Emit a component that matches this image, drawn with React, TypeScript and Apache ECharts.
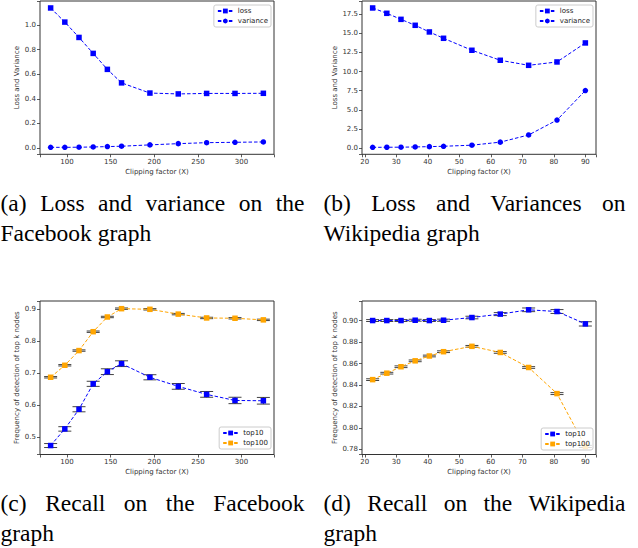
import React, { useEffect, useRef } from 'react';
import * as echarts from 'echarts';

// ---------- data ----------
const FB_X = [81.25, 97.5, 113.75, 130, 146.25, 162.5, 195, 227.5, 260, 292.5, 325];
const WIKI_X = [22.5, 27, 31.5, 36, 40.5, 45, 54, 63, 72, 81, 90];

const FB_LOSS = [1.14, 1.025, 0.9, 0.77, 0.64, 0.53, 0.447, 0.44, 0.444, 0.444, 0.445];
const FB_VARIANCE = [0.005, 0.005, 0.006, 0.008, 0.011, 0.014, 0.025, 0.035, 0.043, 0.046, 0.049];

const WIKI_LOSS = [18.33, 17.63, 16.84, 16.06, 15.19, 14.36, 12.79, 11.48, 10.82, 11.26, 13.75];
const WIKI_VARIANCE = [0.08, 0.09, 0.1, 0.13, 0.17, 0.22, 0.36, 0.76, 1.7, 3.65, 7.52];

const FB_TOP10 = [0.474, 0.526, 0.5875, 0.667, 0.705, 0.73, 0.6875, 0.659, 0.634, 0.615, 0.614];
const FB_TOP10_ERR = [0.0062, 0.007, 0.008, 0.008, 0.009, 0.009, 0.008, 0.009, 0.009, 0.01, 0.0104];
const FB_TOP100 = [0.6875, 0.725, 0.771, 0.83, 0.876, 0.902, 0.9, 0.885, 0.873, 0.872, 0.867];
const FB_TOP100_ERR = [0.0022, 0.0022, 0.0022, 0.0022, 0.0022, 0.0022, 0.0022, 0.0022, 0.0022, 0.0022, 0.0022];

const WIKI_TOP10 = [0.9, 0.9, 0.9, 0.9003, 0.9, 0.9003, 0.9028, 0.906, 0.91, 0.9084, 0.8969];
const WIKI_TOP10_ERR = [0.0009, 0.0009, 0.0009, 0.0009, 0.0009, 0.001, 0.0012, 0.0014, 0.0017, 0.0018, 0.002];
const WIKI_TOP100 = [0.845, 0.851, 0.857, 0.8625, 0.867, 0.871, 0.876, 0.8703, 0.8563, 0.832, 0.7828];
const WIKI_TOP100_ERR = [0.0008, 0.0008, 0.0008, 0.0008, 0.0008, 0.0008, 0.0008, 0.0008, 0.0008, 0.0009, 0.001];

const CAPTIONS = [
  ['(a) Loss and variance on the', 'Facebook graph'],
  ['(b) Loss and Variances on', 'Wikipedia graph'],
  ['(c) Recall on the Facebook', 'graph'],
  ['(d) Recall on the Wikipedia', 'graph'],
];

const X_NAME = 'Clipping factor (X)';
const Y_NAME_LOSS = 'Loss and Variance';
const Y_NAME_FREQ = 'Frequency of detection of top k nodes';

// ---------- helpers ----------
const BLUE = '#0000ff';
const ORANGE = '#ffa500';
const AX = '#333';
const SANS = 'DejaVu Sans';
const SERIF = 'Liberation Serif';

function padded(values: number[]): [number, number] {
  const lo = Math.min(...values);
  const hi = Math.max(...values);
  const m = (hi - lo) * 0.05;
  return [lo - m, hi + m];
}

function tickFmt(step: number, dec: number) {
  return (v: number) => {
    const k = v / step;
    if (Math.abs(k - Math.round(k)) > 1e-6) return '';
    return (Math.round(k) * step).toFixed(dec);
  };
}

function axis(gridIndex: number, ext: [number, number], step: number, dec: number, name: string, nameGap: number) {
  return {
    type: 'value',
    gridIndex,
    min: ext[0],
    max: ext[1],
    minInterval: step,
    maxInterval: step,
    splitNumber: 5,
    name,
    nameLocation: 'middle',
    nameGap,
    nameTextStyle: { fontSize: 7, fontFamily: SANS, color: '#333' },
    axisLine: { show: false, onZero: false },
    axisTick: { show: true, length: 3, lineStyle: { color: AX, width: 0.8 } },
    axisLabel: { fontSize: 7, fontFamily: SANS, color: '#333', margin: 4, formatter: tickFmt(step, dec) },
    splitLine: { show: false },
  };
}

function lineSeries(name: string, xs: number[], ys: number[], color: string, symbol: string, idx: number) {
  return {
    type: 'line',
    name,
    xAxisIndex: idx,
    yAxisIndex: idx,
    data: xs.map((x, i) => [x, ys[i]]),
    symbol,
    symbolSize: 5.5,
    showSymbol: true,
    itemStyle: { color },
    lineStyle: { color, width: 1, type: [3.5, 2] },
    z: 2,
  };
}

function errSeries(xs: number[], ys: number[], err: number[], idx: number) {
  return {
    type: 'custom',
    name: 'err' + idx,
    xAxisIndex: idx,
    yAxisIndex: idx,
    data: xs.map((x, i) => [x, ys[i] - err[i], ys[i] + err[i]]),
    encode: { x: 0, y: [1, 2] },
    z: 1,
    renderItem: (params: any, api: any) => {
      const x = api.value(0);
      const lo = api.coord([x, api.value(1)]);
      const hi = api.coord([x, api.value(2)]);
      const cw = 6.5;
      const st = { stroke: '#222', lineWidth: 1, opacity: 0.85 };
      return {
        type: 'group',
        children: [
          { type: 'line', shape: { x1: lo[0], y1: lo[1], x2: hi[0], y2: hi[1] }, style: st },
          { type: 'line', shape: { x1: lo[0] - cw, y1: lo[1], x2: lo[0] + cw, y2: lo[1] }, style: st },
          { type: 'line', shape: { x1: hi[0] - cw, y1: hi[1], x2: hi[0] + cw, y2: hi[1] }, style: st },
        ],
      };
    },
  };
}

function legend(names: string[], right: number, top: number) {
  return {
    data: names,
    orient: 'vertical',
    right,
    top,
    z: 10,
    padding: [2, 3, 2, 3],
    itemGap: 2,
    itemWidth: 15,
    itemHeight: 6,
    backgroundColor: 'rgba(255,255,255,0.8)',
    borderColor: '#cccccc',
    borderWidth: 1,
    borderRadius: 2,
    selectedMode: false,
    textStyle: { fontSize: 7, fontFamily: SANS, color: '#222', lineHeight: 8 },
  };
}

function captionGraphics(): any[] {
  const fontSize = 23.5;
  const canvas = document.createElement('canvas');
  const ctx = canvas.getContext('2d')!;
  ctx.font = `${fontSize}px "${SERIF}"`;
  const cols = [
    { x0: 0.5, x1: 304.5, y: 202.5 },
    { x0: 323.5, x1: 625.5, y: 202.5 },
    { x0: 0.5, x1: 304.5, y: 502.5 },
    { x0: 323.5, x1: 625.5, y: 502.5 },
  ];
  const out: any[] = [];
  const txt = (s: string, x: number, y: number) => ({
    type: 'text',
    x,
    y,
    style: {
      text: s,
      fontSize,
      fontFamily: SERIF,
      fill: '#000',
      align: 'left',
      verticalAlign: 'middle',
      textAlign: 'left',
      textVerticalAlign: 'middle',
    },
  });
  CAPTIONS.forEach((lines, i) => {
    const c = cols[i];
    const words = lines[0].split(' ');
    const widths = words.map((w) => ctx.measureText(w).width);
    const total = widths.reduce((a, b) => a + b, 0);
    const gap = (c.x1 - c.x0 - total) / (words.length - 1);
    let x = c.x0;
    words.forEach((w, k) => {
      out.push(txt(w, x, c.y));
      x += widths[k] + gap;
    });
    out.push(txt(lines[1], c.x0, c.y + 30));
  });
  return out;
}

export default function App() {
  const ref = useRef<HTMLDivElement>(null);
  useEffect(() => {
    if (!ref.current) return;
    const chart = echarts.init(ref.current, undefined, { renderer: 'svg' });

    const fbX = padded(FB_X);
    const wikiX = padded(WIKI_X);
    const yA = padded([...FB_LOSS, ...FB_VARIANCE]);
    const yB = padded([...WIKI_LOSS, ...WIKI_VARIANCE]);
    const yC = padded([
      ...FB_TOP10.map((v, i) => v - FB_TOP10_ERR[i]),
      ...FB_TOP10.map((v, i) => v + FB_TOP10_ERR[i]),
      ...FB_TOP100.map((v, i) => v - FB_TOP100_ERR[i]),
      ...FB_TOP100.map((v, i) => v + FB_TOP100_ERR[i]),
    ]);
    const yD = padded([
      ...WIKI_TOP10.map((v, i) => v - WIKI_TOP10_ERR[i]),
      ...WIKI_TOP10.map((v, i) => v + WIKI_TOP10_ERR[i]),
      ...WIKI_TOP100.map((v, i) => v - WIKI_TOP100_ERR[i]),
      ...WIKI_TOP100.map((v, i) => v + WIKI_TOP100_ERR[i]),
    ]);

    const gridBase = {
      show: true,
      borderColor: AX,
      borderWidth: 1,
      backgroundColor: 'transparent',
      containLabel: false,
      outerBoundsMode: 'none',
    };

    const option: any = {
      animation: false,
      textStyle: { fontFamily: SANS },
      grid: [
        { ...gridBase, left: 40, top: 1, width: 234, height: 153.3 },
        { ...gridBase, left: 362, top: 1, width: 234, height: 153.3 },
        { ...gridBase, left: 40, top: 301, width: 234, height: 153.5 },
        { ...gridBase, left: 362, top: 301, width: 234, height: 153.5 },
      ],
      xAxis: [
        axis(0, fbX, 50, 0, X_NAME, 14.5),
        axis(1, wikiX, 10, 0, X_NAME, 14.5),
        axis(2, fbX, 50, 0, X_NAME, 14),
        axis(3, wikiX, 10, 0, X_NAME, 14),
      ],
      yAxis: [
        axis(0, yA, 0.2, 1, Y_NAME_LOSS, 18.5),
        axis(1, yB, 2.5, 1, Y_NAME_LOSS, 24),
        axis(2, yC, 0.1, 1, Y_NAME_FREQ, 18.5),
        axis(3, yD, 0.02, 2, Y_NAME_FREQ, 24),
      ],
      legend: [
        legend(['loss', 'variance'], 367, 5),
        legend(['loss', 'variance'], 45, 5),
        legend(['top10', 'top100'], 367, 427),
        legend(['top10', 'top100'], 45, 428),
      ],
      series: [
        lineSeries('loss', FB_X, FB_LOSS, BLUE, 'rect', 0),
        lineSeries('variance', FB_X, FB_VARIANCE, BLUE, 'circle', 0),
        lineSeries('loss', WIKI_X, WIKI_LOSS, BLUE, 'rect', 1),
        lineSeries('variance', WIKI_X, WIKI_VARIANCE, BLUE, 'circle', 1),
        errSeries(FB_X, FB_TOP10, FB_TOP10_ERR, 2),
        errSeries(FB_X, FB_TOP100, FB_TOP100_ERR, 2),
        lineSeries('top10', FB_X, FB_TOP10, BLUE, 'rect', 2),
        lineSeries('top100', FB_X, FB_TOP100, ORANGE, 'rect', 2),
        errSeries(WIKI_X, WIKI_TOP10, WIKI_TOP10_ERR, 3),
        errSeries(WIKI_X, WIKI_TOP100, WIKI_TOP100_ERR, 3),
        lineSeries('top10', WIKI_X, WIKI_TOP10, BLUE, 'rect', 3),
        lineSeries('top100', WIKI_X, WIKI_TOP100, ORANGE, 'rect', 3),
      ],
      graphic: captionGraphics(),
    };
    chart.setOption(option);
    return () => chart.dispose();
  }, []);
  return (
    <div
      ref={ref}
      style={{ position: 'absolute', left: 0, top: 0, width: 638, height: 548, background: '#fff' }}
    />
  );
}
